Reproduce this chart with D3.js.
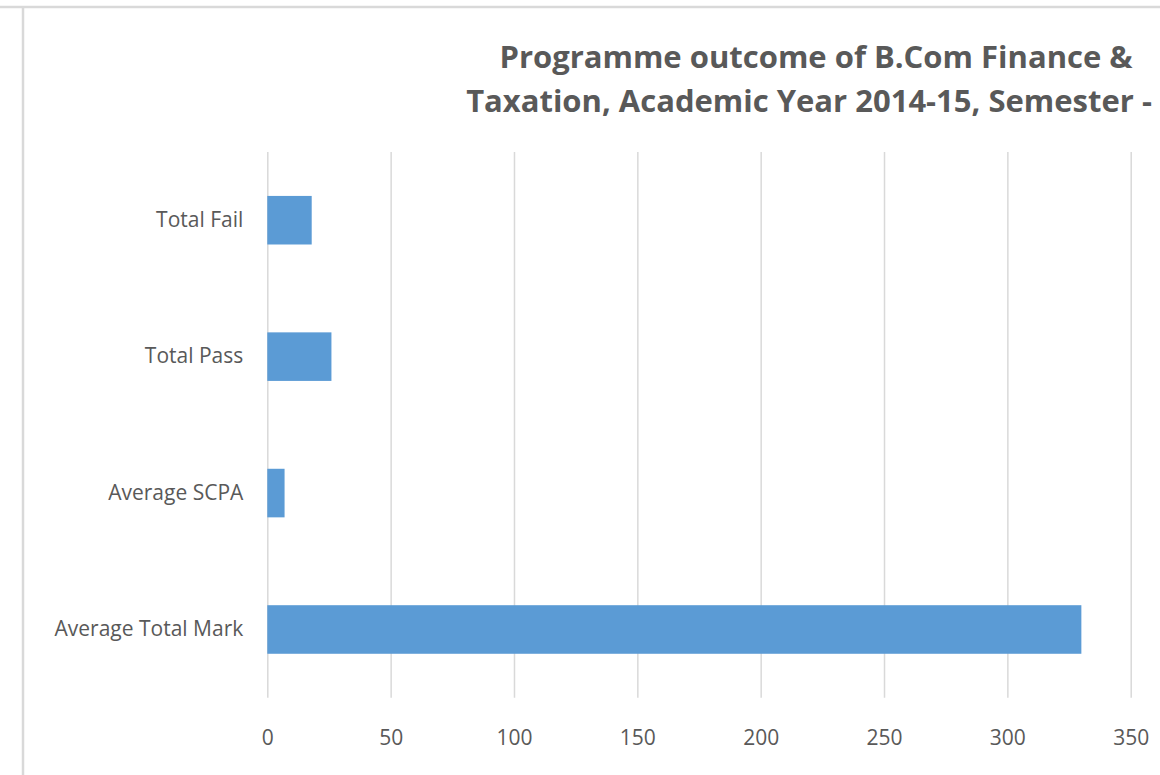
<!DOCTYPE html>
<html>
<head>
<meta charset="utf-8">
<script src="https://cdn.jsdelivr.net/npm/d3@7"></script>
<style>
  body { margin: 0; background: #fff; }
  svg { display: block; font-family: "Open Sans", Lato, sans-serif; }
</style>
</head>
<body>
<div id="chart"></div>
<script>
// chart data
const categories = ["Total Fail", "Total Pass", "Average SCPA", "Average Total Mark"];
const values = [18, 26, 7, 330];
const xTicks = [0, 50, 100, 150, 200, 250, 300, 350];
const titleLines = ["Programme outcome of B.Com Finance &", "Taxation, Academic Year 2014-15, Semester -"];

const width = 1160, height = 775;
const plotLeft = 267.3, plotRight = 1130.7, plotTop = 152, plotBottom = 697.7;
const font = "'Open Sans', Lato, sans-serif";

const svg = d3.select("#chart").append("svg")
  .attr("width", width)
  .attr("height", height);

// chart frame (only top and left edges are visible in the crop)
svg.append("line")
  .attr("x1", 0).attr("x2", width).attr("y1", 7).attr("y2", 7)
  .attr("stroke", "#d9d9d9").attr("stroke-width", 2.5);
svg.append("line")
  .attr("x1", 23).attr("x2", 23).attr("y1", 7).attr("y2", height)
  .attr("stroke", "#d9d9d9").attr("stroke-width", 2.5);

// title
svg.append("g")
  .selectAll("text")
  .data(titleLines)
  .enter().append("text")
    .attr("x", (d, i) => i === 0 ? 816 : 809)
    .attr("y", (d, i) => 68 + i * 44)
    .attr("text-anchor", "middle")
    .attr("font-size", 31)
    .attr("font-weight", "bold")
    .attr("fill", "#595959")
    .text(d => d);

const x = d3.scaleLinear().domain([0, 350]).range([plotLeft, plotRight]);
const y = d3.scaleBand().domain(categories).range([plotTop, plotBottom])
  .paddingInner(0.644).paddingOuter(0.322);

// x axis + vertical gridlines
const xAxis = svg.append("g")
  .attr("transform", `translate(0, ${plotBottom})`)
  .call(d3.axisBottom(x).tickValues(xTicks).tickSize(-(plotBottom - plotTop)));
xAxis.select(".domain").remove();
xAxis.selectAll(".tick line").attr("stroke", "#d9d9d9").attr("stroke-width", 1.5);
xAxis.selectAll(".tick text")
  .attr("y", 47.5).attr("dy", 0)
  .attr("font-size", 21).attr("font-family", font)
  .attr("fill", "#595959");

// y axis labels
const yAxis = svg.append("g")
  .attr("transform", `translate(${plotLeft}, 0)`)
  .call(d3.axisLeft(y).tickSize(0).tickPadding(24));
yAxis.select(".domain").remove();
yAxis.selectAll(".tick text")
  .attr("font-size", 21).attr("font-family", font)
  .attr("fill", "#595959");

// bars
svg.selectAll(".bar")
  .data(categories)
  .enter().append("rect")
    .attr("class", "bar")
    .attr("x", x(0))
    .attr("y", d => y(d))
    .attr("width", (d, i) => x(values[i]) - x(0))
    .attr("height", y.bandwidth())
    .attr("fill", "#5b9bd5");
</script>
</body>
</html>
